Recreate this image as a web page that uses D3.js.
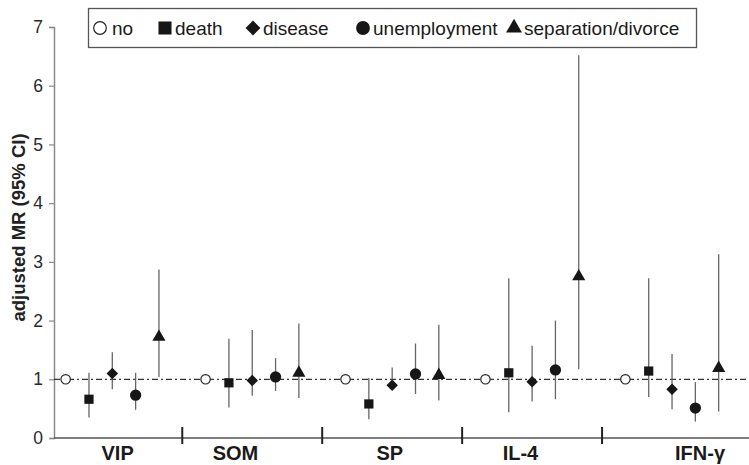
<!DOCTYPE html>
<html>
<head>
<meta charset="utf-8">
<script src="https://cdn.jsdelivr.net/npm/d3@7"></script>
<style>
  body { margin: 0; background: #fff; }
  svg { font-family: "Liberation Sans", Arial, sans-serif; }
</style>
</head>
<body>
<div class="chart"></div>
<script>
// categories and series
const categories = ["VIP", "SOM", "SP", "IL-4", "IFN-\u03B3"];
const seriesNames = ["no", "death", "disease", "unemployment", "separation/divorce"];

// adjusted MR and 95% CI for each series, in category order ("no" is the reference = 1)
const noMR = [1, 1, 1, 1, 1];
const deathMR = [0.66, 0.94, 0.58, 1.11, 1.14];
const deathLo = [0.35, 0.52, 0.32, 0.44, 0.70];
const deathHi = [1.11, 1.69, 1.02, 2.72, 2.72];
const diseaseMR = [1.10, 0.98, 0.90, 0.96, 0.83];
const diseaseLo = [0.83, 0.72, 0.86, 0.62, 0.49];
const diseaseHi = [1.46, 1.84, 1.20, 1.57, 1.43];
const unempMR = [0.73, 1.04, 1.09, 1.16, 0.51];
const unempLo = [0.48, 0.80, 0.75, 0.66, 0.28];
const unempHi = [1.11, 1.36, 1.61, 2.00, 0.95];
const sepMR = [1.72, 1.11, 1.07, 2.75, 1.19];
const sepLo = [1.04, 0.68, 0.64, 1.17, 0.45];
const sepHi = [2.87, 1.95, 1.93, 6.52, 3.13];

// axis ticks and label slots (x in "slot" units: 6 slots per category)
const yTicks = [0, 1, 2, 3, 4, 5, 6, 7];
const separatorSlots = [6, 12, 18, 24];
const labelSlots = [3.23, 8.28, 14.9, 20.5, 28.2];
const referenceMR = 1;

const width = 749, height = 465;
const svg = d3.select(".chart").append("svg")
    .attr("width", width)
    .attr("height", height);

// #region scales
const x = d3.scaleLinear().domain([0.5, 30.3]).range([54, 749]);
const y = d3.scaleLinear().domain([0, 7]).range([438, 27]);
// #endregion

// #region build point list
const seriesData = [
    { name: "no", mr: noMR, lo: null, hi: null },
    { name: "death", mr: deathMR, lo: deathLo, hi: deathHi },
    { name: "disease", mr: diseaseMR, lo: diseaseLo, hi: diseaseHi },
    { name: "unemployment", mr: unempMR, lo: unempLo, hi: unempHi },
    { name: "separation/divorce", mr: sepMR, lo: sepLo, hi: sepHi }
];
let points = [];
categories.forEach((c, g) => {
    seriesData.forEach((s, k) => {
        points.push({ cat: c, series: s.name, slot: g * 6 + k + 1, mr: s.mr[g],
            lo: s.lo ? s.lo[g] : null, hi: s.hi ? s.hi[g] : null });
    });
});
// #endregion

// #region axes
const gY = svg.append("g")
    .attr("class", "yAxis")
    .attr("transform", "translate(" + x(0.5) + ",0)")
    .call(d3.axisLeft(y).tickValues(yTicks).tickSize(5).tickPadding(6).tickFormat(d3.format("d")));
gY.select(".domain").attr("stroke", "#8a8a8a").attr("stroke-width", 1.5);
gY.selectAll(".tick line").attr("stroke", "#8a8a8a").attr("stroke-width", 1.2);
gY.selectAll(".tick text")
    .attr("font-size", 17.5)
    .attr("fill", "#2a2a2a")
    .attr("font-family", "'Liberation Sans', Arial, sans-serif");

svg.append("text")
    .attr("transform", "translate(25," + (y(3.5) - 5) + ") rotate(-90)")
    .attr("text-anchor", "middle")
    .attr("font-size", 18.5)
    .attr("font-weight", "bold")
    .attr("fill", "#222")
    .text("adjusted MR (95% CI)");

// x axis line
svg.append("line")
    .attr("x1", x(0.5)).attr("x2", x(30.3))
    .attr("y1", y(0)).attr("y2", y(0))
    .attr("stroke", "#555").attr("stroke-width", 1.5);

svg.selectAll(".sep")
    .data(separatorSlots)
    .enter()
    .append("line")
    .attr("class", "sep")
    .attr("x1", d => x(d)).attr("x2", d => x(d))
    .attr("y1", y(0) - 11).attr("y2", y(0) + 6)
    .attr("stroke", "#222").attr("stroke-width", 2);

svg.selectAll(".catLabel")
    .data(categories)
    .enter()
    .append("text")
    .attr("class", "catLabel")
    .attr("x", (d, i) => x(labelSlots[i]))
    .attr("y", 460)
    .attr("text-anchor", "middle")
    .attr("font-size", 20)
    .attr("font-weight", "bold")
    .attr("fill", "#1a1a1a")
    .text(d => d);
// #endregion

// #region reference line
svg.append("line")
    .attr("x1", x(0.5)).attr("x2", x(30.3))
    .attr("y1", y(referenceMR)).attr("y2", y(referenceMR))
    .attr("stroke", "#333")
    .attr("stroke-width", 1.2)
    .attr("stroke-dasharray", "6,3,2,3");
// #endregion

// #region CI lines
svg.selectAll(".ci")
    .data(points.filter(d => d.lo != null))
    .enter()
    .append("line")
    .attr("class", "ci")
    .attr("x1", d => x(d.slot)).attr("x2", d => x(d.slot))
    .attr("y1", d => y(d.lo)).attr("y2", d => y(d.hi))
    .attr("stroke", "#666")
    .attr("stroke-width", 1.3);
// #endregion

// #region markers
const markerType = {
    "no": d3.symbolCircle,
    "death": d3.symbolSquare,
    "disease": d3.symbolSquare,
    "unemployment": d3.symbolCircle,
    "separation/divorce": d3.symbolTriangle
};
const markerSize = { "no": 70, "death": 85, "disease": 66, "unemployment": 100, "separation/divorce": 75 };
const legendSize = { "no": 125, "death": 170, "disease": 110, "unemployment": 150, "separation/divorce": 110 };

function drawMarker(sel, name, sizeTable) {
    sel.append("path")
        .attr("d", d3.symbol().type(markerType[name]).size(sizeTable[name]))
        .attr("fill", name == "no" ? "#fff" : "#161616")
        .attr("stroke", name == "no" ? "#222" : "none")
        .attr("stroke-width", 1.2)
        .attr("transform", name == "disease" ? "rotate(45)" : null);
}

points.forEach(p => {
    let g = svg.append("g")
        .attr("class", "pt")
        .attr("transform", "translate(" + x(p.slot) + "," + y(p.mr) + ")");
    drawMarker(g, p.series, markerSize);
});
// #endregion

// #region legend
const legendX = [100, 165, 253, 363, 514];
svg.append("rect")
    .attr("x", 88.5).attr("y", 8.5)
    .attr("width", 608).attr("height", 39)
    .attr("fill", "#fff")
    .attr("stroke", "#555")
    .attr("stroke-width", 1.3);
seriesNames.forEach((n, i) => {
    let g = svg.append("g").attr("transform", "translate(" + legendX[i] + ",28)");
    drawMarker(g, n, legendSize);
    svg.append("text")
        .attr("x", legendX[i] + (i == 0 ? 12 : 10))
        .attr("y", 34.5)
        .attr("font-size", 19)
        .attr("fill", "#1a1a1a")
        .text(n);
});
// #endregion
</script>
</body>
</html>
